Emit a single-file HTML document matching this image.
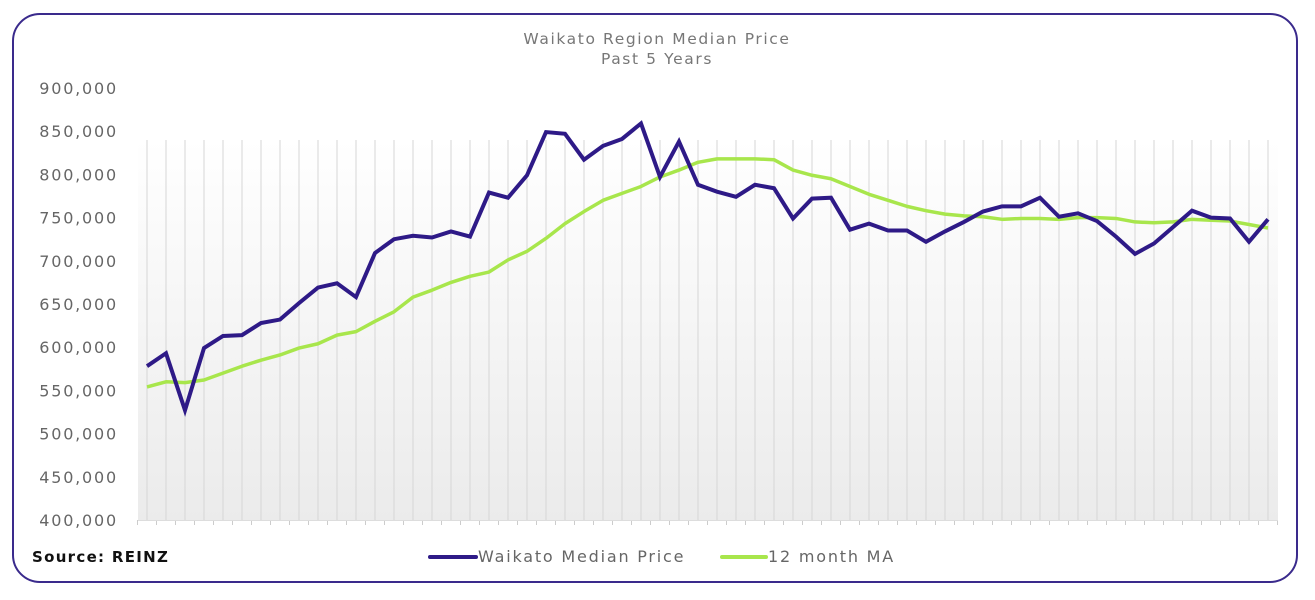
<!DOCTYPE html>
<html><head><meta charset="utf-8">
<style>
html,body{margin:0;padding:0;background:#fff;}
body{width:1315px;height:600px;overflow:hidden;font-family:"DejaVu Sans","Liberation Sans",sans-serif;}
#frame{position:absolute;left:12px;top:13px;width:1286px;height:570px;border:2px solid #3a2a8c;border-radius:28px;box-sizing:border-box;}
svg{position:absolute;left:0;top:0;}
</style></head><body>
<div id="frame"></div>
<svg id="chart" width="1315" height="600">
<defs>
<linearGradient id="bg" x1="0" y1="0" x2="0" y2="1">
<stop offset="0" stop-color="#ffffff"/><stop offset="1" stop-color="#ebebeb"/>
</linearGradient>
</defs>
<text x="657" y="44" text-anchor="middle" font-size="15.5" letter-spacing="1.6" fill="#777">Waikato Region Median Price</text>
<text x="657" y="64" text-anchor="middle" font-size="15.5" letter-spacing="1.6" fill="#777">Past 5 Years</text>
<text x="32" y="562" font-size="15" font-weight="bold" letter-spacing="1.3" fill="#111">Source: REINZ</text>
<g>
<line x1="430" y1="557" x2="476" y2="557" stroke="#2e1a87" stroke-width="4" stroke-linecap="round"/>
<text x="478" y="562" font-size="16" letter-spacing="1.8" fill="#666">Waikato Median Price</text>
<line x1="722" y1="557" x2="766" y2="557" stroke="#a8e64c" stroke-width="4" stroke-linecap="round"/>
<text x="768" y="562" font-size="16" letter-spacing="1.8" fill="#666">12 month MA</text>
</g>
</svg>
<script>
const yTicks=[400000,450000,500000,550000,600000,650000,700000,750000,800000,850000,900000];
const median=[578,593,527,599,613,614,628,632,651,669,674,658,709,725,729,727,734,728,779,773,799,849,847,817,833,841,859,797,838,788,780,774,788,784,749,772,773,736,743,735,735,722,734,745,757,763,763,773,751,755,746,728,708,720,739,758,750,749,722,748];
const ma=[554,560,559,562,570,578,585,591,599,604,614,618,630,641,658,666,675,682,687,701,711,726,743,757,770,778,786,797,805,814,818,818,818,817,805,799,795,786,777,770,763,758,754,752,751,748,749,749,748,750,750,749,745,744,745,748,747,746,742,738];
const NS='http://www.w3.org/2000/svg';
const svg=document.getElementById('chart');
const X0=147,DX=19,Y0=520,Y1=88;
function xs(i){return X0+i*DX;}
function ys(v){return Y0-(v-400000)/500000*(Y0-Y1);}
function mk(t,a){const e=document.createElementNS(NS,t);for(const k in a)e.setAttribute(k,a[k]);svg.appendChild(e);return e;}
const bg=mk('rect',{x:138,y:140,width:1140,height:380,fill:'url(#bg)'});


median.forEach((v,i)=>{
 const l=mk('line',{x1:xs(i),x2:xs(i),y1:140,y2:520,stroke:'#d6d6d6','stroke-width':1});
 
 
});
for(let i=0;i<=median.length;i++){
 const t=mk('line',{x1:xs(i)-9.5,x2:xs(i)-9.5,y1:520,y2:525,stroke:'#ccc','stroke-width':1});
 
 
}
const ax=mk('line',{x1:138,x2:1278,y1:520.5,y2:520.5,stroke:'#ddd'});


yTicks.forEach(v=>{
 const t=mk('text',{x:118,y:ys(v)+6,'text-anchor':'end','font-size':16,'letter-spacing':1.8,fill:'#666'});
 t.textContent=v.toLocaleString('en-US');
 
 
});
const pm=mk('polyline',{points:ma.map((v,i)=>xs(i)+','+ys(v*1000)).join(' '),fill:'none',stroke:'#a8e64c','stroke-width':3.5,'stroke-linejoin':'round'});


const pl=mk('polyline',{points:median.map((v,i)=>xs(i)+','+ys(v*1000)).join(' '),fill:'none',stroke:'#2e1a87','stroke-width':4,'stroke-linejoin':'miter'});


</script>
</body></html>
